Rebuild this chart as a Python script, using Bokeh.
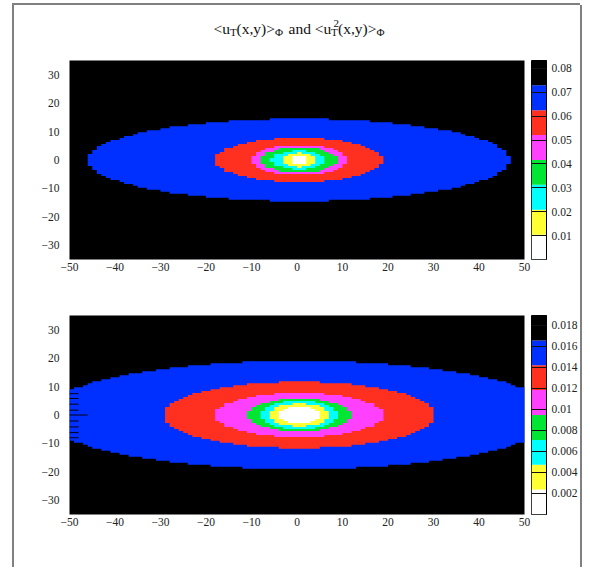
import numpy as np
from bokeh.plotting import figure
from bokeh.models import Range1d, FixedTicker, Spacer
from bokeh.layouts import row, column
from bokeh.embed import file_html
from bokeh.resources import INLINE
from bokeh.core.properties import value

# ---------------- data ----------------
# histogram binning (TH2 style)
x_lo, x_hi, nx = -50.0, 50.0, 100
y_lo, y_hi, ny = -35.0, 35.0, 100

# palette bins, lowest first
level_colors = ["#FFFFFF", "#FFFF33", "#00FFFF", "#00E633", "#FF40FF", "#FF3020", "#0030FF", "#000000"]

# panel 1 : <u_T(x,y)>_Phi  contour semi-axes, outermost (blue) to innermost (white)
p1_center_x = 0.45
p1_semi_x = [46.3, 18.5, 10.5, 8.4, 6.0, 3.7, 1.8]
p1_semi_y = [14.5, 7.7, 5.2, 4.4, 3.2, 2.5, 1.7]
p1_z_edges = [0.0, 0.0104, 0.0208, 0.0313, 0.0417, 0.0521, 0.0625, 0.0729, 0.0833]
p1_ticks = [0.01, 0.02, 0.03, 0.04, 0.05, 0.06, 0.07, 0.08]
p1_tick_labels = ["0.01", "0.02", "0.03", "0.04", "0.05", "0.06", "0.07", "0.08"]

# panel 2 : <u_T^2(x,y)>_Phi
p2_center_x = 0.5
p2_semi_x = [56.7, 29.7, 18.5, 11.5, 8.5, 6.5, 4.6]
p2_semi_y = [19.0, 11.7, 7.7, 5.7, 5.1, 4.0, 2.9]
p2_z_edges = [0.0, 0.00237, 0.00474, 0.0071, 0.00947, 0.01184, 0.0142, 0.01657, 0.01894]
p2_ticks = [0.002, 0.004, 0.006, 0.008, 0.01, 0.012, 0.014, 0.016, 0.018]
p2_tick_labels = ["0.002", "0.004", "0.006", "0.008", "0.01", "0.012", "0.014", "0.016", "0.018"]
# empty cells along the left edge of panel 2
p2_comb_y = [7.5, 5.8, 3.8, 1.7, 0.0, -2.1, -4.2, -6.2, -8.0]
p2_comb_x_end = [-48.0, -48.0, -48.0, -48.0, -46.0, -48.0, -48.0, -48.0, -48.0]

x_ticks = [-50, -40, -30, -20, -10, 0, 10, 20, 30, 40, 50]
y_ticks = [-30, -20, -10, 0, 10, 20, 30]

title_main = ["<u", "(x,y)>", "and <u", "(x,y)>"]
title_main_x = [213, 236, 288, 337.5]
title_sub = ["T", "\u03a6", "T", "\u03a6"]
title_sub_x = [229.5, 274.5, 330.5, 376]
title_sup = ["2"]
title_sup_x = [333]

FONT = "Liberation Serif"

# ---------------- helpers ----------------
xe = np.linspace(x_lo, x_hi, nx + 1)
ye = np.linspace(y_lo, y_hi, ny + 1)
xc = 0.5 * (xe[:-1] + xe[1:])
yc = 0.5 * (ye[:-1] + ye[1:])


def level_patches(cx, semi_x, semi_y):
    xs, ys, cols = [], [], []
    for k, (a, b) in enumerate(zip(semi_x, semi_y)):
        rows_ = []
        for j in range(ny):
            inside = ((xc - cx) / a) ** 2 + (yc[j] / b) ** 2 <= 1.0
            if inside.any():
                idx = np.nonzero(inside)[0]
                rows_.append((ye[j], ye[j + 1], xe[idx[0]], xe[idx[-1] + 1]))
        px, py = [], []
        for (yb, yt, xl, xr) in rows_:
            px += [xr, xr]
            py += [yb, yt]
        for (yb, yt, xl, xr) in reversed(rows_):
            px += [xl, xl]
            py += [yt, yb]
        xs.append(px)
        ys.append(py)
        cols.append(level_colors[6 - k])
    return xs, ys, cols


def panel(cx, semi_x, semi_y, top_b, bot_b):
    p = figure(frame_width=455, frame_height=199,
               x_range=Range1d(x_lo, x_hi), y_range=Range1d(y_lo, y_hi),
               min_border_left=55, min_border_right=7,
               min_border_top=top_b, min_border_bottom=bot_b,
               output_backend="svg", toolbar_location=None,
               background_fill_color="black", border_fill_color="white")
    p.outline_line_color = None
    p.grid.visible = False
    xs, ys, cols = level_patches(cx, semi_x, semi_y)
    p.patches(xs, ys, fill_color=cols, line_color=None)
    p.xaxis.ticker = FixedTicker(ticks=x_ticks)
    p.yaxis.ticker = FixedTicker(ticks=y_ticks)
    for ax in (p.xaxis, p.yaxis):
        ax.axis_line_color = None
        ax.major_tick_line_color = None
        ax.major_tick_in = 0
        ax.major_tick_out = 0
        ax.minor_tick_line_color = None
        ax.major_label_text_font = FONT
        ax.major_label_text_font_size = "11.5px"
        ax.major_label_text_color = "#222222"
    p.yaxis.major_label_standoff = 10
    p.xaxis.major_label_standoff = 3
    return p


def colorbar(edges, ticks, labels, top_b, bot_b):
    c = figure(frame_width=15, frame_height=199,
               x_range=Range1d(0, 1), y_range=Range1d(edges[0], edges[-1]),
               min_border_left=0, min_border_right=32,
               min_border_top=top_b, min_border_bottom=bot_b,
               x_axis_location=None, y_axis_location="right",
               output_backend="svg", toolbar_location=None)
    c.grid.visible = False
    c.quad(left=0, right=1, bottom=edges[:-1], top=edges[1:],
           fill_color=level_colors, line_color=None)
    c.outline_line_color = "black"
    ax = c.yaxis[0]
    ax.ticker = FixedTicker(ticks=ticks)
    ax.major_label_overrides = {t: l for t, l in zip(ticks, labels)}
    ax.axis_line_color = "black"
    ax.major_tick_in = 15
    ax.major_tick_out = 0
    ax.major_tick_line_color = "#111111"
    ax.minor_tick_line_color = None
    ax.major_label_standoff = 5
    ax.major_label_text_font = FONT
    ax.major_label_text_font_size = "11.5px"
    ax.major_label_text_color = "#222222"
    return c


# ---------------- title ----------------
t = figure(width=564, height=43, x_range=Range1d(14, 578), y_range=Range1d(48, 5),
           min_border=0, x_axis_location=None, y_axis_location=None,
           output_backend="svg", toolbar_location=None)
t.outline_line_color = None
t.grid.visible = False
t.text(x=title_main_x, y=[28] * len(title_main), text=title_main,
       text_font=value(FONT), text_font_size="15.5px", text_baseline="alphabetic", text_color="#111111")
t.text(x=title_sub_x, y=[31.5] * len(title_sub), text=title_sub,
       text_font=value(FONT), text_font_size="11px", text_baseline="alphabetic", text_color="#111111")
t.text(x=title_sup_x, y=[23] * len(title_sup), text=title_sup,
       text_font=value(FONT), text_font_size="11px", text_baseline="alphabetic", text_color="#111111")

# ---------------- panels ----------------
p1 = panel(p1_center_x, p1_semi_x, p1_semi_y, 12, 28)
c1 = colorbar(p1_z_edges, p1_ticks, p1_tick_labels, 12, 28)

p2 = panel(p2_center_x, p2_semi_x, p2_semi_y, 28, 53)
p2.segment(x0=[x_lo] * len(p2_comb_y), y0=p2_comb_y, x1=p2_comb_x_end, y1=p2_comb_y,
           line_color="#000010", line_width=1)
c2 = colorbar(p2_z_edges, p2_ticks, p2_tick_labels, 28, 53)

content = column(t, row(p1, c1), row(p2, c2), spacing=0)

border = {"background-color": "#808080"}
vl = Spacer(width=2, height=562, styles=border)
vr = Spacer(width=2, height=562, styles=border)
top_line = Spacer(width=568, height=2, styles=border)

layout = column(
    Spacer(width=10, height=3),
    row(Spacer(width=12, height=10),
        column(top_line, row(vl, content, vr, spacing=0), spacing=0),
        spacing=0),
    spacing=0)

open("out.html", "w").write(file_html(layout, INLINE))
